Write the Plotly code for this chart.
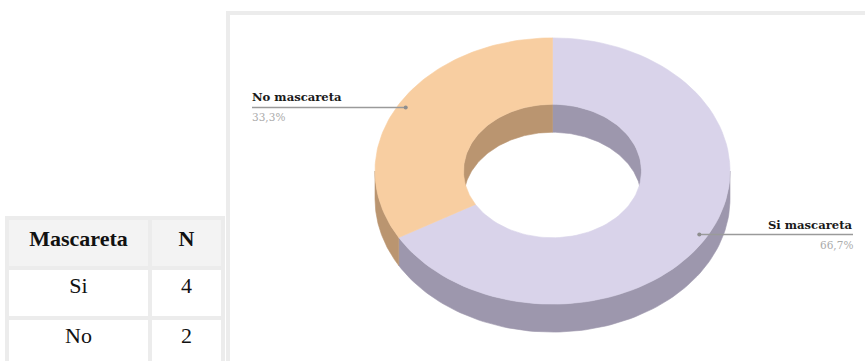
import numpy as np
import plotly.graph_objects as go

# ---- data ----
categories = ["Si mascareta", "No mascareta"]
counts = [4, 2]
table_header = ["Mascareta", "N"]
table_rows = ["Si", "No"]
table_counts = [4, 2]

# ---- style ----
top_colors = ["#D9D3EA", "#F8CEA1"]
wall_colors = ["#9D97AD", "#BA9570"]
W, H = 865, 361
CX, CY = 552.5, 171.0
R_OUT, R_IN = 177.5, 89.0
TILT = 0.75
DEPTH = 28.0


def arc(a0, a1, r, dy=0.0, n=90):
    t = np.radians(np.linspace(a0, a1, n))
    return CX + r * np.sin(t), CY - TILT * r * np.cos(t) + dy


def band(a0, a1, r):
    """Side wall between the top rim and the rim shifted down by DEPTH."""
    x1, y1 = arc(a0, a1, r)
    x2, y2 = arc(a1, a0, r, DEPTH)
    return np.concatenate([x1, x2, x1[:1]]), np.concatenate([y1, y2, y1[:1]])


def face(a0, a1):
    x1, y1 = arc(a0, a1, R_OUT)
    x2, y2 = arc(a1, a0, R_IN)
    return np.concatenate([x1, x2, x1[:1]]), np.concatenate([y1, y2, y1[:1]])


def clip(a0, a1, lo, hi):
    s, e = max(a0, lo), min(a1, hi)
    return (s, e) if e > s else None


total = sum(counts)
spans = []
start = 0.0
for c in counts:
    end = start + 360.0 * c / total
    spans.append((start, end))
    start = end

fig = go.Figure()


def poly(x, y, color):
    fig.add_trace(go.Scatter(x=x, y=y, mode="lines", fill="toself",
                             fillcolor=color, line=dict(width=0.6, color=color),
                             hoverinfo="skip", showlegend=False))


# outer walls (front half)
for (a0, a1), col in zip(spans, wall_colors):
    seg = clip(a0, a1, 90, 270)
    if seg:
        poly(*band(seg[0], seg[1], R_OUT), col)

# inner walls (back half of the hole)
for (a0, a1), col in zip(spans, wall_colors):
    for lo, hi in ((-90, 90), (270, 450)):
        seg = clip(a0, a1, lo, hi)
        if seg:
            poly(*band(seg[0], seg[1], R_IN), col)

# top faces
for (a0, a1), col in zip(spans, top_colors):
    poly(*face(a0, a1), col)

# leader lines and labels
label_side = [("right", 853), ("left", 252)]
for (a0, a1), name, c, (side, xend) in zip(spans, categories, counts, label_side):
    mid = (a0 + a1) / 2
    dx, dy = arc(mid, mid, 0.955 * R_OUT, n=1)
    dx, dy = float(dx[0]), float(dy[0])
    fig.add_trace(go.Scatter(x=[dx, xend], y=[dy, dy], mode="lines",
                             line=dict(color="#9A9A9A", width=1.5),
                             hoverinfo="skip", showlegend=False))
    fig.add_trace(go.Scatter(x=[dx], y=[dy], mode="markers",
                             marker=dict(color="#8E8E8E", size=4),
                             hoverinfo="skip", showlegend=False))
    pct = f"{100 * c / total:.1f}".replace(".", ",") + "%"
    tx = xend - 2 if side == "left" else xend + 2
    fig.add_annotation(x=tx, y=dy - 10, text=f"<b>{name}</b>", showarrow=False,
                       xanchor=side, yanchor="middle", xref="x", yref="y",
                       font=dict(family="DejaVu Serif", size=11.6, color="#1A1A1A"))
    fig.add_annotation(x=tx, y=dy + 10, text=pct, showarrow=False,
                       xanchor=side, yanchor="middle", xref="x", yref="y",
                       font=dict(family="DejaVu Serif", size=10.5, color="#ABABAB"))

# summary table
fig.add_trace(go.Table(
    domain=dict(x=[7 / W, 223 / W], y=[0, 1 - 218 / H]),
    columnwidth=[143, 73],
    header=dict(values=[f"<b>{h}</b>" for h in table_header],
                fill_color="#F3F3F3", line=dict(color="#ECECEC", width=4),
                align="center", height=50,
                font=dict(family="Liberation Serif", size=22, color="#111111")),
    cells=dict(values=[table_rows, table_counts],
               fill_color="#FFFFFF", line=dict(color="#ECECEC", width=4),
               align="center", height=50,
               font=dict(family="Liberation Serif", size=22, color="#111111")),
))

# panel frame around the donut
fig.add_shape(type="rect", xref="x", yref="y", x0=228, y0=13, x1=900, y1=400,
              line=dict(color="#ECECEC", width=4), fillcolor="rgba(0,0,0,0)",
              layer="below")

fig.update_layout(
    width=W, height=H, margin=dict(l=0, r=0, t=0, b=0),
    paper_bgcolor="#FFFFFF", plot_bgcolor="#FFFFFF",
    xaxis=dict(range=[0, W], visible=False, fixedrange=True),
    yaxis=dict(range=[H, 0], visible=False, fixedrange=True),
    showlegend=False,
)

fig.write_html("out.html")
